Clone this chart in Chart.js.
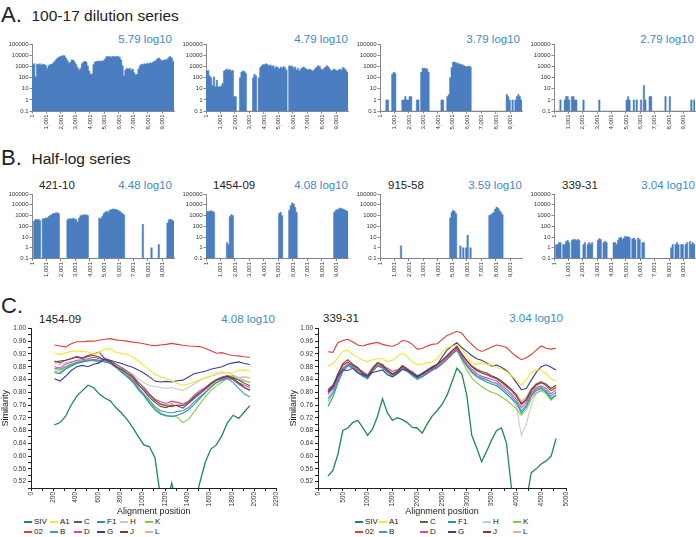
<!DOCTYPE html>
<html>
<head>
<meta charset="utf-8">
<script src="https://cdn.jsdelivr.net/npm/chart.js@4.4.1/dist/chart.umd.min.js"></script>
<style>
  body { margin: 0; width: 696px; height: 537px; position: relative; overflow: hidden; background: #fff;
         font-family: "Liberation Sans", Arial, sans-serif; color: #222; }
  .t { position: absolute; white-space: nowrap; line-height: 1; }
  .big { font-size: 22px; }
  .head { font-size: 15.5px; }
  .lbl { font-size: 11.5px; }
  .blue { color: #3c8ac8; }
  canvas { position: absolute; }
  .lg { position: absolute; font-size: 8px; line-height: 1; white-space: nowrap; height: 8px; }
  .lg i { position: absolute; left: 0; top: 3.2px; width: 8px; height: 1.4px; }
  .lg span { position: absolute; left: 10px; top: 0; }
</style>
</head>
<body>
<div class="t big" style="left:1px;top:4px">A.</div>
<div class="t head" style="left:31.5px;top:7.5px">100-17 dilution series</div>
<div class="t lbl blue" style="right:524px;top:33.6px">5.79 log10</div>
<div class="t lbl blue" style="right:348px;top:33.6px">4.79 log10</div>
<div class="t lbl blue" style="right:176px;top:33.6px">3.79 log10</div>
<div class="t lbl blue" style="right:2px;top:33.6px">2.79 log10</div>

<div class="t big" style="left:1px;top:147px">B.</div>
<div class="t head" style="left:31.5px;top:151px">Half-log series</div>
<div class="t lbl" style="left:39px;top:179.6px">421-10</div>
<div class="t lbl blue" style="right:524px;top:179.6px">4.48 log10</div>
<div class="t lbl" style="left:213px;top:179.6px">1454-09</div>
<div class="t lbl blue" style="right:348px;top:179.6px">4.08 log10</div>
<div class="t lbl" style="left:388px;top:179.6px">915-58</div>
<div class="t lbl blue" style="right:174px;top:179.6px">3.59 log10</div>
<div class="t lbl" style="left:562px;top:179.6px">339-31</div>
<div class="t lbl blue" style="right:1px;top:179.6px">3.04 log10</div>

<div class="t big" style="left:1px;top:295px">C.</div>
<div class="t lbl" style="left:39px;top:314.3px">1454-09</div>
<div class="t lbl blue" style="right:421px;top:314.3px">4.08 log10</div>
<div class="t lbl" style="left:323px;top:312.8px">339-31</div>
<div class="t lbl blue" style="right:133px;top:312.8px">3.04 log10</div>

<script>
// ---- coverage panels (A, B): read depth per 100-nt bin ----
const GENOME_END = 9801;
const FLOOR = 0.1;
const binStarts = Array.from({ length: 98 }, (_, i) => 1 + i * 100);
const genomeTicks = [1, 1001, 2001, 3001, 4001, 5001, 6001, 7001, 8001, 9001];
const depthTicks = [0.1, 1, 10, 100, 1000, 10000, 100000];

const dil579 = [1500,1800,120,1700,1500,1800,1400,1600,1500,1300,
  700,1200,1500,1600,2000,2800,4000,5500,7000,8000,
  9000,10000,9500,6000,3500,2000,2500,4000,3800,2500,
  1500,800,500,700,1800,2500,3000,2500,1200,400,
  200,220,1500,2500,3000,3000,3200,3000,3200,3500,
  5000,8000,7500,8000,7000,8500,8000,7500,8500,8000,
  7000,4000,1200,150,500,700,600,700,500,600,
  300,180,200,600,1200,1600,1500,1800,1600,2000,
  1800,2200,2000,2500,3000,3500,5000,6000,4500,3500,
  3500,4000,3800,5000,7000,8000,6000,3000];
const dil479 = [400,450,150,100,20,120,15,60,15,15,
  18,30,400,500,600,500,550,400,450,2,
  2,0,0,100,300,400,350,250,0,0,
  0,0,100,200,150,0,100,800,1200,1500,
  1500,1800,1500,1200,1400,1000,1200,700,1000,800,
  600,900,700,1000,800,500,0,1200,1000,1100,
  700,900,500,700,400,600,800,900,700,600,
  500,600,500,400,500,700,900,1200,1000,600,
  500,700,900,1200,900,600,400,500,600,500,
  400,500,600,500,800,700,500,300];
const dil379 = [0,0,0,0,1,1,0,0,200,300,
  250,0,0,0,0,1,1,2,1,1,
  2,2,0,0,0,1,1,0,300,700,
  700,700,600,300,0,0,0,0,0,0,
  0,0,1,1,0,0,2,3,100,800,
  2500,2500,2200,2000,1800,1600,1500,1300,1100,1000,
  1000,1100,900,0,0,0,0,0,0,0,
  0,0,0,0,0,0,0,0,0,0,
  0,0,0,0,0,0,0,3,2,1,
  0,1,0,1,2,3,2,1];
const dil279 = [0,0,0,0,1,0,0,1,2,2,
  1,0,2,2,1,1,0,0,0,0,
  1,0,0,0,0,0,0,0,0,0,
  0,1,0,0,0,0,0,0,0,0,
  0,0,0,0,0,0,0,0,0,0,
  1,2,1,0,0,1,0,1,0,0,
  1,0,20,1,0,0,2,2,0,0,
  0,0,0,0,0,0,0,2,0,0,
  2,0,0,0,0,0,0,0,0,0,
  0,0,0,0,0,1,0,1];
const s421_10 = [0,300,450,400,450,350,0,500,500,600,
  600,800,1000,1200,1500,1500,1800,1800,1500,0,
  0,0,0,0,400,500,500,500,550,500,
  400,250,600,1000,1000,1200,1100,1200,1000,0,
  0,0,0,0,0,0,600,500,800,1500,
  2000,2500,2000,3000,3500,4000,4000,3800,3500,3000,
  2500,2000,1500,1200,0,0,0,0,0,0,
  0,0,0,0,0,0,150,0,0,0,
  0,0,1,0,0,0,0,2,0,0,
  0,0,0,200,400,450,400,300];
const s1454_09 = [2000,2500,2500,2800,2500,2000,0,0,0,0,
  0,0,0,0,3,2,800,1200,1000,0,
  0,0,0,0,0,0,0,0,0,0,
  0,0,0,0,0,0,0,0,0,0,
  0,0,0,0,0,0,0,0,0,0,
  1500,2000,1000,0,0,0,0,3000,8000,15000,
  12000,6000,2000,0,0,0,0,0,0,0,
  0,0,0,0,0,0,0,0,0,0,
  0,0,0,0,0,0,0,0,2000,3000,
  3500,4000,5000,4500,4000,3500,3000,2500];
const s915_58 = [0,0,0,0,0,0,0,0,0,0,
  0,0,0,0,1.5,0,0,0,0,0,
  0,0,0,0,0,0,0,0,0,0,
  0,0,0,0,0,0,0,0,0,0,
  0,0,0,0,0,0,0,0,600,2000,
  3000,2500,1500,0,0,1.5,0,1,0,1,
  15,0,1,0,0,0,0,0,0,0,
  0,0,0,0,0,1000,1200,1500,2000,4000,
  6000,5000,3000,2000,1200,0,0,0,0,0,
  0,0,0,0,0,0,0,0];
const s339_31 = [0,2,2,3,3,0,2,2,4,5,
  3,0,5,6,6,5,6,5,0,0,
  2,3,0,2,3,2,3,0,0,0,
  5,7,6,0,3,4,3,0,0,0,
  0,3,3,2,5,8,10,6,8,12,
  10,11,9,0,7,8,6,0,8,6,
  0,3,3,0,0,0,0,0,0,0,
  0,0,0,0,0,0,0,0,0,0,
  0,1,2,0,2,3,2,0,2,2,
  0,2,3,0,4,2,3,2];

// ---- similarity plots (C) ----
const pos1454 = Array.from({ length: 36 }, (_, i) => 210 + i * 50);
const pos339 = Array.from({ length: 47 }, (_, i) => 200 + i * 100);

const siv1454 = [.698,.705,.725,.760,.788,.805,.822,.815,.795,.782,.773,.752,.735,.715,.690,.662,.635,.630,.595,.470,.440,.515,.440,.420,.420,.440,.515,.580,.622,.635,.665,.705,.728,.718,.738,.758];
const a1_1454 = [.922,.918,.924,.928,.930,.928,.926,.918,.925,.935,.936,.925,.922,.918,.912,.898,.885,.870,.856,.848,.842,.836,.828,.822,.826,.832,.838,.845,.850,.860,.864,.860,.862,.868,.870,.866];
const c_1454 = [.898,.892,.900,.906,.910,.905,.912,.916,.910,.902,.898,.888,.878,.866,.852,.832,.815,.795,.775,.762,.758,.755,.760,.758,.768,.785,.800,.812,.828,.840,.848,.852,.845,.838,.828,.820];
const f1_1454 = [.862,.858,.872,.882,.890,.895,.898,.902,.900,.895,.890,.878,.862,.848,.832,.808,.790,.765,.745,.732,.726,.724,.728,.734,.745,.762,.780,.798,.815,.830,.840,.845,.838,.825,.815,.808];
const h_1454 = [.890,.886,.892,.896,.898,.898,.902,.900,.896,.898,.892,.882,.874,.866,.858,.842,.830,.822,.818,.815,.812,.815,.810,.806,.815,.826,.836,.845,.850,.855,.860,.862,.855,.845,.838,.832];
const k_1454 = [.866,.862,.876,.885,.892,.896,.900,.898,.895,.898,.893,.880,.866,.850,.835,.812,.792,.770,.750,.735,.728,.726,.722,.705,.715,.738,.762,.785,.805,.820,.832,.845,.848,.840,.835,.830];
const r02_1454 = [.948,.945,.942,.952,.958,.958,.960,.960,.963,.966,.968,.964,.962,.960,.957,.955,.952,.948,.946,.948,.950,.953,.950,.947,.945,.944,.943,.938,.930,.922,.924,.918,.915,.914,.911,.909];
const b_1454 = [.875,.872,.880,.888,.894,.898,.900,.902,.898,.896,.892,.880,.866,.852,.838,.815,.795,.775,.755,.742,.738,.735,.740,.742,.752,.770,.785,.800,.815,.830,.838,.842,.830,.812,.795,.785];
const d_1454 = [.880,.876,.888,.894,.900,.902,.905,.910,.905,.900,.895,.882,.870,.858,.842,.822,.810,.792,.778,.770,.765,.772,.768,.762,.772,.790,.805,.815,.828,.838,.842,.848,.840,.830,.822,.815];
const g_1454 = [.842,.835,.850,.868,.880,.884,.880,.888,.892,.905,.900,.895,.890,.884,.878,.870,.860,.848,.835,.832,.834,.832,.836,.838,.848,.858,.862,.866,.872,.876,.880,.888,.892,.895,.890,.887];
const j_1454 = [.895,.898,.900,.905,.912,.908,.915,.920,.926,.905,.895,.880,.872,.860,.848,.825,.805,.785,.768,.755,.752,.760,.758,.750,.765,.780,.795,.810,.825,.838,.845,.850,.842,.830,.815,.805];
const l_1454 = [.872,.868,.878,.885,.892,.895,.898,.900,.895,.898,.892,.880,.870,.858,.845,.825,.808,.790,.775,.765,.760,.765,.770,.765,.770,.782,.795,.808,.820,.835,.845,.850,.852,.846,.848,.845];

const siv339 = [.537,.555,.605,.680,.688,.705,.712,.690,.665,.685,.725,.780,.735,.712,.720,.714,.705,.690,.688,.672,.700,.725,.742,.762,.790,.832,.875,.858,.790,.665,.625,.582,.615,.650,.680,.688,.640,.500,.440,.420,.460,.548,.560,.575,.585,.600,.655];
const a1_339 = [.882,.890,.908,.928,.932,.918,.910,.900,.896,.902,.905,.905,.896,.900,.912,.922,.912,.895,.886,.888,.892,.895,.905,.925,.940,.944,.948,.935,.915,.890,.888,.892,.888,.885,.878,.872,.865,.852,.838,.822,.840,.862,.870,.868,.858,.842,.835];
const c_339 = [.808,.822,.852,.885,.895,.884,.876,.858,.848,.872,.892,.882,.870,.858,.866,.884,.874,.860,.846,.856,.866,.878,.886,.898,.912,.928,.945,.918,.898,.880,.868,.860,.855,.848,.842,.830,.818,.805,.788,.765,.778,.808,.825,.832,.820,.805,.815];
const f1_339 = [.755,.785,.828,.865,.882,.876,.862,.850,.842,.865,.882,.876,.862,.850,.860,.872,.865,.852,.840,.848,.858,.868,.876,.888,.902,.918,.932,.905,.882,.862,.848,.840,.832,.826,.820,.808,.795,.780,.765,.735,.755,.788,.805,.812,.800,.780,.792];
const h_339 = [.790,.808,.842,.875,.885,.878,.868,.855,.848,.865,.882,.878,.866,.855,.862,.878,.868,.855,.842,.850,.860,.870,.878,.890,.905,.920,.930,.905,.885,.865,.852,.845,.840,.832,.825,.810,.795,.780,.755,.665,.700,.760,.795,.808,.800,.782,.790];
const k_339 = [.770,.795,.838,.872,.886,.880,.868,.855,.848,.868,.886,.880,.866,.856,.864,.876,.868,.858,.845,.852,.862,.872,.880,.892,.905,.920,.936,.900,.870,.845,.830,.818,.808,.800,.795,.785,.775,.762,.748,.728,.745,.778,.798,.805,.795,.775,.790];
const r02_339 = [.927,.925,.955,.962,.966,.958,.948,.945,.950,.953,.956,.950,.946,.944,.950,.962,.960,.950,.935,.937,.945,.950,.952,.965,.978,.984,.991,.985,.965,.950,.935,.928,.935,.942,.948,.945,.940,.925,.912,.902,.908,.918,.932,.945,.938,.935,.938];
const b_339 = [.780,.800,.835,.870,.885,.878,.865,.852,.845,.868,.885,.878,.865,.855,.862,.875,.866,.856,.845,.850,.860,.870,.878,.890,.905,.920,.935,.908,.885,.865,.852,.845,.838,.832,.828,.815,.802,.788,.770,.742,.760,.792,.810,.815,.805,.788,.800];
const d_339 = [.795,.812,.840,.875,.888,.885,.870,.865,.855,.870,.885,.880,.875,.865,.870,.878,.870,.865,.852,.855,.862,.872,.880,.892,.905,.922,.938,.912,.890,.872,.858,.850,.845,.840,.835,.822,.810,.795,.778,.752,.768,.798,.815,.820,.812,.795,.808];
const g_339 = [.800,.815,.850,.870,.868,.875,.860,.855,.850,.862,.866,.870,.855,.848,.858,.872,.868,.860,.850,.858,.868,.875,.885,.910,.932,.945,.955,.940,.928,.915,.905,.900,.892,.882,.885,.878,.868,.852,.830,.808,.812,.838,.862,.880,.886,.878,.870];
const j_339 = [.805,.818,.858,.890,.902,.888,.878,.862,.850,.876,.893,.886,.868,.856,.864,.882,.870,.856,.848,.860,.870,.880,.888,.900,.915,.930,.942,.920,.900,.882,.872,.865,.860,.852,.845,.835,.822,.808,.790,.762,.775,.805,.822,.830,.825,.812,.822];
const l_339 = [.800,.815,.848,.882,.893,.887,.875,.862,.855,.878,.893,.888,.875,.866,.870,.882,.875,.864,.852,.860,.868,.878,.886,.898,.912,.928,.940,.918,.898,.880,.866,.860,.856,.850,.845,.835,.822,.810,.795,.772,.785,.812,.828,.835,.825,.810,.818];

const legendOrder = ['SIV', 'A1', 'C', 'F1', 'H', 'K', '02', 'B', 'D', 'G', 'J', 'L'];
const colors = {
  SIV: '#1f8a4e', A1: '#f2e62a', C: '#5c5c5c', F1: '#1c9c9c', H: '#cacaca', K: '#8cc63f',
  '02': '#e23b3b', B: '#4b8fcf', D: '#e0479e', G: '#3d3d95', J: '#86392f', L: '#cdb98c'
};

Chart.defaults.font.family = '"Liberation Sans", Arial, sans-serif';

function makeCanvas(left, top, width, height) {
  const c = document.createElement('canvas');
  c.width = width; c.height = height;
  c.style.left = left + 'px'; c.style.top = top + 'px';
  c.style.width = width + 'px'; c.style.height = height + 'px';
  document.body.appendChild(c);
  return c.getContext('2d');
}

function coverage(left, top, width, height, padTop, plotH, depth) {
  const xH = height - padTop - plotH;
  const pts = binStarts.map((x, i) => ({ x: x, y: depth[i] > 0 ? depth[i] : FLOOR }));
  pts.push({ x: GENOME_END, y: FLOOR });
  new Chart(makeCanvas(left, top, width, height), {
    type: 'line',
    data: { datasets: [{ data: pts, stepped: true, fill: 'start', borderColor: '#4a7ec0',
      backgroundColor: '#4a7ec0', borderWidth: 0.5, pointRadius: 0 }] },
    options: {
      responsive: false, animation: false, events: [],
      layout: { padding: { top: padTop, right: 1, left: 0, bottom: 0 } },
      plugins: { legend: { display: false }, tooltip: { enabled: false } },
      scales: {
        x: {
          type: 'linear', min: 1, max: GENOME_END,
          afterBuildTicks: s => { s.ticks = genomeTicks.map(v => ({ value: v })); },
          afterFit: s => { s.height = xH; s.paddingLeft = 0; s.paddingRight = 0; },
          ticks: { minRotation: 90, maxRotation: 90, autoSkip: false, padding: 1, color: '#333',
                   font: { size: 6 }, callback: v => v.toLocaleString('en-US') },
          grid: { drawOnChartArea: false, tickLength: 2.5, color: '#888' },
          border: { color: '#888' }
        },
        y: {
          type: 'logarithmic', min: FLOOR, max: 100000,
          afterBuildTicks: s => { s.ticks = depthTicks.map(v => ({ value: v })); },
          afterFit: s => { s.width = 30; s.paddingTop = 0; s.paddingBottom = 0; },
          ticks: { autoSkip: false, padding: 1, color: '#333', font: { size: 6 }, callback: v => String(v) },
          grid: { drawOnChartArea: false, tickLength: 2.5, color: '#888' },
          border: { color: '#888' }
        }
      }
    }
  });
}

// row A
coverage(2, 38, 173, 93, 6.3, 66.7, dil579);
coverage(176, 38, 173, 93, 6.3, 66.7, dil479);
coverage(350, 38, 173, 93, 6.3, 66.7, dil379);
coverage(524, 38, 172, 93, 6.3, 66.7, dil279);
// row B
coverage(2, 188, 173, 91, 6, 64.5, s421_10);
coverage(176, 188, 173, 91, 6, 64.5, s1454_09);
coverage(350, 188, 173, 91, 6, 64.5, s915_58);
coverage(524, 188, 172, 91, 6, 64.5, s339_31);

function similarity(left, top, width, yW, padTop, padRight, xH, height, pos, xMax, xStep, xLabelStep, series) {
  const drawOrder = ['SIV', '02', 'A1', 'G', 'J', 'C', 'D', 'B', 'F1', 'K', 'L', 'H'];
  const datasets = drawOrder.map(name => ({
    label: name,
    data: pos.map((x, i) => ({ x: x, y: series[name][i] })),
    borderColor: colors[name], borderWidth: name === 'SIV' ? 1.3 : 1.1,
    pointRadius: 0, fill: false, tension: 0
  }));
  new Chart(makeCanvas(left, top, width, height), {
    type: 'line',
    data: { datasets: datasets },
    options: {
      responsive: false, animation: false, events: [],
      layout: { padding: { top: padTop, right: padRight, left: 0, bottom: 0 } },
      plugins: { legend: { display: false }, tooltip: { enabled: false } },
      scales: {
        x: {
          type: 'linear', min: 0, max: xMax,
          afterFit: s => { s.height = xH; s.paddingLeft = 0; s.paddingRight = 0; },
          ticks: { stepSize: xStep, minRotation: 90, maxRotation: 90, autoSkip: false, padding: 1,
                   color: '#333', font: { size: 6.5 },
                   callback: v => (Math.round(v) % xLabelStep === 0 ? String(Math.round(v)) : '') },
          grid: { drawOnChartArea: false, tickLength: 3, color: '#222' },
          border: { color: '#222' },
          title: { display: true, text: 'Alignment position', font: { size: 9 }, color: '#222', padding: 0 }
        },
        y: {
          min: 0.5, max: 1.0,
          afterFit: s => { s.width = yW; s.paddingTop = 0; s.paddingBottom = 0; },
          ticks: { stepSize: 0.02, autoSkip: false, padding: 2, color: '#333', font: { size: 6.5 },
                   callback: v => (Math.round(v * 100) % 4 === 0 ? v.toFixed(2) : '') },
          grid: { drawOnChartArea: false, tickLength: 3, color: '#222' },
          border: { color: '#222' },
          title: { display: true, text: 'Similarity', font: { size: 9 }, color: '#222', padding: 0.5 }
        }
      }
    }
  });
}

similarity(0, 318, 287, 31, 10.4, 10.3, 29, 199, pos1454, 2200, 100, 200, {
  SIV: siv1454, A1: a1_1454, C: c_1454, F1: f1_1454, H: h_1454, K: k_1454,
  '02': r02_1454, B: b_1454, D: d_1454, G: g_1454, J: j_1454, L: l_1454
});
similarity(288, 318, 288, 30, 10.4, 10, 29, 199, pos339, 5000, 250, 500, {
  SIV: siv339, A1: a1_339, C: c_339, F1: f1_339, H: h_339, K: k_339,
  '02': r02_339, B: b_339, D: d_339, G: g_339, J: j_339, L: l_339
});

// legends below the similarity plots
function legend(cols, rowCenters) {
  legendOrder.forEach((name, i) => {
    const el = document.createElement('div');
    el.className = 'lg';
    el.style.left = cols[i % 6] + 'px';
    el.style.top = (rowCenters[Math.floor(i / 6)] - 3.9) + 'px';
    el.innerHTML = '<i style="background:' + colors[name] + '"></i><span>' + name + '</span>';
    document.body.appendChild(el);
  });
}
legend([24, 50, 74, 97, 120, 145], [522, 532]);
legend([355, 379, 420, 448, 483, 513], [522, 532]);
</script>
</body>
</html>
